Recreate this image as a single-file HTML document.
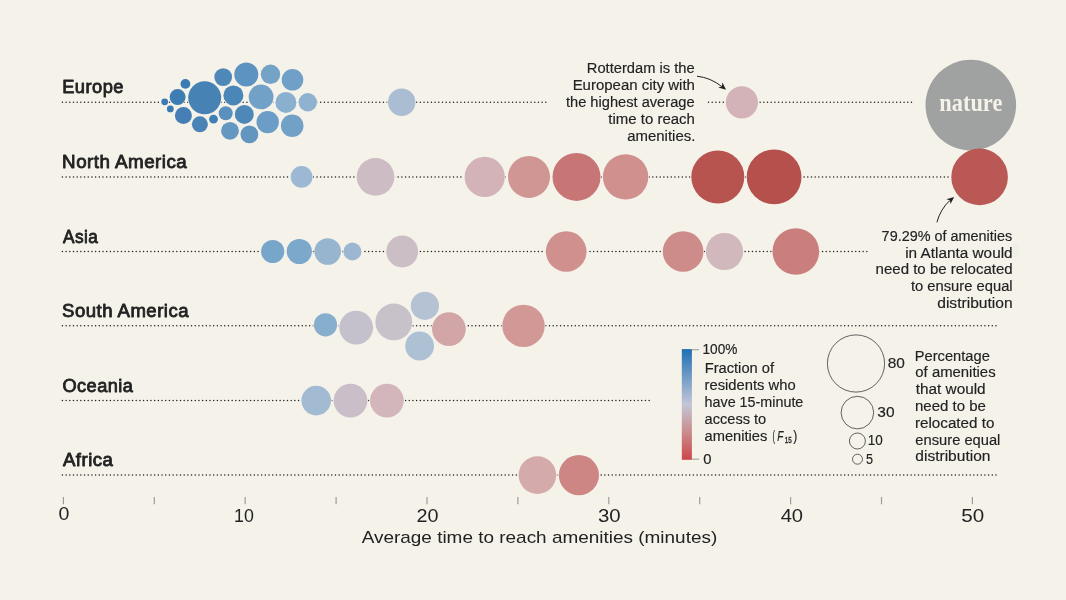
<!DOCTYPE html>
<html lang="en"><head><meta charset="utf-8"><title>15-minute cities</title>
<style>
html,body{margin:0;padding:0;background:#f5f2ea;}
body{width:1066px;height:600px;overflow:hidden;font-family:"Liberation Sans",sans-serif;}
svg{display:block;}
text{font-family:"Liberation Sans",sans-serif;fill:#222222;stroke:#222222;stroke-width:0.15px;}
.lab{stroke-width:0.8px;stroke-linejoin:round;letter-spacing:0.45px;}
.it{font-style:italic;}
.ax{stroke:none;}
.sub{stroke-width:0.35px;}
text.nat{font-family:"Liberation Serif",serif;font-weight:bold;fill:#f5f2ea;stroke:none;}
.dot{stroke:#222222;stroke-width:1.5;stroke-dasharray:0.01 3.68;stroke-linecap:round;fill:none;}
.tick{stroke:#9c9c98;stroke-width:1.2;}
</style></head><body>
<svg width="1066" height="600" viewBox="0 0 1066 600">
<defs><linearGradient id="cb" x1="0" y1="0" x2="0" y2="1">
<stop offset="0" stop-color="#1f6fb3"/><stop offset="0.5" stop-color="#c2c6d7"/><stop offset="0.75" stop-color="#cb8b8c"/><stop offset="1" stop-color="#cc464b"/>
</linearGradient></defs>
<rect x="0" y="0" width="1066" height="600" fill="#f5f2ea"/>
<line class="dot" x1="62.4" y1="102.25" x2="547.5" y2="102.25"/>
<line class="dot" x1="708.5" y1="102.25" x2="913.0" y2="102.25"/>
<line class="dot" x1="62.4" y1="176.90" x2="980.0" y2="176.90"/>
<line class="dot" x1="62.4" y1="251.50" x2="868.5" y2="251.50"/>
<line class="dot" x1="62.4" y1="325.85" x2="998.0" y2="325.85"/>
<line class="dot" x1="62.4" y1="400.60" x2="651.5" y2="400.60"/>
<line class="dot" x1="62.4" y1="475.10" x2="998.0" y2="475.10"/>
<circle cx="164.7" cy="101.80" r="4.10" fill="#f5f2ea"/>
<circle cx="170.3" cy="108.90" r="4.10" fill="#f5f2ea"/>
<circle cx="177.6" cy="97.10" r="8.70" fill="#f5f2ea"/>
<circle cx="185.4" cy="83.90" r="5.60" fill="#f5f2ea"/>
<circle cx="183.4" cy="115.50" r="9.20" fill="#f5f2ea"/>
<circle cx="204.7" cy="97.80" r="17.20" fill="#f5f2ea"/>
<circle cx="199.9" cy="124.30" r="8.70" fill="#f5f2ea"/>
<circle cx="213.5" cy="119.20" r="5.10" fill="#f5f2ea"/>
<circle cx="223.2" cy="77.10" r="9.60" fill="#f5f2ea"/>
<circle cx="233.4" cy="95.40" r="10.70" fill="#f5f2ea"/>
<circle cx="225.7" cy="113.20" r="7.70" fill="#f5f2ea"/>
<circle cx="230.0" cy="130.80" r="9.60" fill="#f5f2ea"/>
<circle cx="246.3" cy="74.40" r="12.70" fill="#f5f2ea"/>
<circle cx="244.3" cy="114.40" r="10.20" fill="#f5f2ea"/>
<circle cx="249.4" cy="134.40" r="9.60" fill="#f5f2ea"/>
<circle cx="261.1" cy="96.90" r="13.10" fill="#f5f2ea"/>
<circle cx="270.5" cy="74.30" r="10.40" fill="#f5f2ea"/>
<circle cx="267.7" cy="122.10" r="11.90" fill="#f5f2ea"/>
<circle cx="285.9" cy="102.40" r="11.20" fill="#f5f2ea"/>
<circle cx="292.5" cy="79.80" r="11.50" fill="#f5f2ea"/>
<circle cx="292.2" cy="125.70" r="12.00" fill="#f5f2ea"/>
<circle cx="307.8" cy="102.20" r="9.90" fill="#f5f2ea"/>
<circle cx="401.7" cy="102.30" r="14.40" fill="#f5f2ea"/>
<circle cx="741.9" cy="102.30" r="16.80" fill="#f5f2ea"/>
<circle cx="301.6" cy="176.90" r="11.60" fill="#f5f2ea"/>
<circle cx="375.5" cy="176.90" r="19.50" fill="#f5f2ea"/>
<circle cx="484.7" cy="176.90" r="20.80" fill="#f5f2ea"/>
<circle cx="529.0" cy="176.90" r="21.70" fill="#f5f2ea"/>
<circle cx="576.5" cy="176.90" r="24.70" fill="#f5f2ea"/>
<circle cx="625.6" cy="176.90" r="23.40" fill="#f5f2ea"/>
<circle cx="717.8" cy="176.90" r="27.20" fill="#f5f2ea"/>
<circle cx="774.1" cy="176.90" r="28.10" fill="#f5f2ea"/>
<circle cx="979.6" cy="176.90" r="29.00" fill="#f5f2ea"/>
<circle cx="272.7" cy="251.50" r="12.30" fill="#f5f2ea"/>
<circle cx="299.3" cy="251.50" r="13.30" fill="#f5f2ea"/>
<circle cx="327.7" cy="251.50" r="14.00" fill="#f5f2ea"/>
<circle cx="352.4" cy="251.50" r="9.70" fill="#f5f2ea"/>
<circle cx="402.2" cy="251.50" r="16.60" fill="#f5f2ea"/>
<circle cx="566.2" cy="251.50" r="21.00" fill="#f5f2ea"/>
<circle cx="683.1" cy="251.50" r="21.00" fill="#f5f2ea"/>
<circle cx="724.5" cy="251.50" r="19.30" fill="#f5f2ea"/>
<circle cx="795.8" cy="251.50" r="24.00" fill="#f5f2ea"/>
<circle cx="325.5" cy="324.80" r="12.30" fill="#f5f2ea"/>
<circle cx="356.2" cy="327.60" r="17.60" fill="#f5f2ea"/>
<circle cx="393.8" cy="321.90" r="19.10" fill="#f5f2ea"/>
<circle cx="424.9" cy="305.80" r="14.80" fill="#f5f2ea"/>
<circle cx="419.6" cy="346.00" r="15.10" fill="#f5f2ea"/>
<circle cx="448.9" cy="329.10" r="17.60" fill="#f5f2ea"/>
<circle cx="523.5" cy="325.85" r="21.90" fill="#f5f2ea"/>
<circle cx="316.2" cy="400.60" r="15.50" fill="#f5f2ea"/>
<circle cx="350.5" cy="400.60" r="17.60" fill="#f5f2ea"/>
<circle cx="386.9" cy="400.60" r="17.60" fill="#f5f2ea"/>
<circle cx="537.4" cy="475.10" r="19.50" fill="#f5f2ea"/>
<circle cx="578.9" cy="475.10" r="20.80" fill="#f5f2ea"/>
<circle cx="970.8" cy="105.1" r="45.3" fill="#a0a2a1"/>
<text class="nat" x="939.24" y="110.6" font-size="25" textLength="63.12" lengthAdjust="spacingAndGlyphs">nature</text>
<circle cx="164.7" cy="101.80" r="3.40" fill="#3a7bb3"/>
<circle cx="170.3" cy="108.90" r="3.40" fill="#3a7bb3"/>
<circle cx="177.6" cy="97.10" r="8.00" fill="#3d7db4"/>
<circle cx="185.4" cy="83.90" r="4.90" fill="#3a7bb3"/>
<circle cx="183.4" cy="115.50" r="8.50" fill="#457fb5"/>
<circle cx="204.7" cy="97.80" r="16.50" fill="#4682b4"/>
<circle cx="199.9" cy="124.30" r="8.00" fill="#4a84b6"/>
<circle cx="213.5" cy="119.20" r="4.40" fill="#3f7fb6"/>
<circle cx="223.2" cy="77.10" r="8.90" fill="#4e88b9"/>
<circle cx="233.4" cy="95.40" r="10.00" fill="#4b86b8"/>
<circle cx="225.7" cy="113.20" r="7.00" fill="#5a90be"/>
<circle cx="230.0" cy="130.80" r="8.90" fill="#6497c2"/>
<circle cx="246.3" cy="74.40" r="12.00" fill="#5d93c0"/>
<circle cx="244.3" cy="114.40" r="9.50" fill="#4d88b9"/>
<circle cx="249.4" cy="134.40" r="8.90" fill="#6296c1"/>
<circle cx="261.1" cy="96.90" r="12.40" fill="#72a1c8"/>
<circle cx="270.5" cy="74.30" r="9.70" fill="#75a3c8"/>
<circle cx="267.7" cy="122.10" r="11.20" fill="#6c9dc6"/>
<circle cx="285.9" cy="102.40" r="10.50" fill="#8aafcf"/>
<circle cx="292.5" cy="79.80" r="10.80" fill="#70a0c7"/>
<circle cx="292.2" cy="125.70" r="11.30" fill="#72a1c8"/>
<circle cx="307.8" cy="102.20" r="9.20" fill="#8fb2d0"/>
<circle cx="401.7" cy="102.30" r="13.70" fill="#abbdd3"/>
<circle cx="741.9" cy="102.30" r="16.10" fill="#d3b3b8"/>
<circle cx="301.6" cy="176.90" r="10.90" fill="#9db8d3"/>
<circle cx="375.5" cy="176.90" r="18.80" fill="#cdbcc3"/>
<circle cx="484.7" cy="176.90" r="20.10" fill="#d3b3b8"/>
<circle cx="529.0" cy="176.90" r="21.00" fill="#d09693"/>
<circle cx="576.5" cy="176.90" r="24.00" fill="#c77575"/>
<circle cx="625.6" cy="176.90" r="22.70" fill="#cf908e"/>
<circle cx="717.8" cy="176.90" r="26.50" fill="#b85450"/>
<circle cx="774.1" cy="176.90" r="27.40" fill="#b5504d"/>
<circle cx="979.6" cy="176.90" r="28.30" fill="#b95855"/>
<circle cx="272.7" cy="251.50" r="11.60" fill="#78a6ca"/>
<circle cx="299.3" cy="251.50" r="12.60" fill="#7ba8cb"/>
<circle cx="327.7" cy="251.50" r="13.30" fill="#98b5d0"/>
<circle cx="352.4" cy="251.50" r="9.00" fill="#9cb7d1"/>
<circle cx="402.2" cy="251.50" r="15.90" fill="#ccbec5"/>
<circle cx="566.2" cy="251.50" r="20.30" fill="#cf908e"/>
<circle cx="683.1" cy="251.50" r="20.30" fill="#cd8b89"/>
<circle cx="724.5" cy="251.50" r="18.60" fill="#d1b8bd"/>
<circle cx="795.8" cy="251.50" r="23.30" fill="#ca7f7d"/>
<circle cx="325.5" cy="324.80" r="11.60" fill="#88aecd"/>
<circle cx="356.2" cy="327.60" r="16.90" fill="#c4c1cc"/>
<circle cx="393.8" cy="321.90" r="18.40" fill="#c7c1c9"/>
<circle cx="424.9" cy="305.80" r="14.10" fill="#b5c2d3"/>
<circle cx="419.6" cy="346.00" r="14.40" fill="#aec0d4"/>
<circle cx="448.9" cy="329.10" r="16.90" fill="#d2a5a7"/>
<circle cx="523.5" cy="325.85" r="21.20" fill="#d19896"/>
<circle cx="316.2" cy="400.60" r="14.80" fill="#a2bad2"/>
<circle cx="350.5" cy="400.60" r="16.90" fill="#cabfc8"/>
<circle cx="386.9" cy="400.60" r="16.90" fill="#d3b6bb"/>
<circle cx="537.4" cy="475.10" r="18.80" fill="#d4aaab"/>
<circle cx="578.9" cy="475.10" r="20.10" fill="#ce8684"/>
<text class="lab" x="62.17" y="93.00" font-size="17.8" textLength="61.79" lengthAdjust="spacingAndGlyphs">Europe</text>
<text class="lab" x="62.12" y="168.00" font-size="17.8" textLength="125.09" lengthAdjust="spacingAndGlyphs">North America</text>
<text class="lab" x="63.00" y="243.00" font-size="17.8" textLength="35.21" lengthAdjust="spacingAndGlyphs">Asia</text>
<text class="lab" x="62.12" y="317.00" font-size="17.8" textLength="126.85" lengthAdjust="spacingAndGlyphs">South America</text>
<text class="lab" x="62.44" y="392.00" font-size="17.8" textLength="70.95" lengthAdjust="spacingAndGlyphs">Oceania</text>
<text class="lab" x="63.00" y="466.00" font-size="17.8" textLength="50.32" lengthAdjust="spacingAndGlyphs">Africa</text>
<line class="tick" x1="63.4" y1="497" x2="63.4" y2="504.3"/>
<line class="tick" x1="154.3" y1="497" x2="154.3" y2="504.3"/>
<line class="tick" x1="245.2" y1="497" x2="245.2" y2="504.3"/>
<line class="tick" x1="336.1" y1="497" x2="336.1" y2="504.3"/>
<line class="tick" x1="427.0" y1="497" x2="427.0" y2="504.3"/>
<line class="tick" x1="517.9" y1="497" x2="517.9" y2="504.3"/>
<line class="tick" x1="608.8" y1="497" x2="608.8" y2="504.3"/>
<line class="tick" x1="699.7" y1="497" x2="699.7" y2="504.3"/>
<line class="tick" x1="790.6" y1="497" x2="790.6" y2="504.3"/>
<line class="tick" x1="881.5" y1="497" x2="881.5" y2="504.3"/>
<line class="tick" x1="972.4" y1="497" x2="972.4" y2="504.3"/>
<text class="ax" x="58.47" y="520.00" font-size="17.6" textLength="10.89" lengthAdjust="spacingAndGlyphs">0</text>
<text class="ax" x="234.01" y="522.00" font-size="17.6" textLength="19.80" lengthAdjust="spacingAndGlyphs">10</text>
<text class="ax" x="416.56" y="522.00" font-size="17.6" textLength="22.03" lengthAdjust="spacingAndGlyphs">20</text>
<text class="ax" x="598.03" y="522.00" font-size="17.6" textLength="22.68" lengthAdjust="spacingAndGlyphs">30</text>
<text class="ax" x="780.65" y="522.00" font-size="17.6" textLength="22.46" lengthAdjust="spacingAndGlyphs">40</text>
<text class="ax" x="961.23" y="522.00" font-size="17.6" textLength="22.89" lengthAdjust="spacingAndGlyphs">50</text>
<text class="ax" x="361.65" y="543.00" font-size="17" textLength="355.60" lengthAdjust="spacingAndGlyphs">Average time to reach amenities (minutes)</text>
<text class="ann" x="586.77" y="73.00" font-size="14" textLength="107.86" lengthAdjust="spacingAndGlyphs">Rotterdam is the</text>
<text class="ann" x="572.65" y="90.00" font-size="14" textLength="122.29" lengthAdjust="spacingAndGlyphs">European city with</text>
<text class="ann" x="565.93" y="107.00" font-size="14" textLength="128.67" lengthAdjust="spacingAndGlyphs">the highest average</text>
<text class="ann" x="608.33" y="124.00" font-size="14" textLength="86.60" lengthAdjust="spacingAndGlyphs">time to reach</text>
<text class="ann" x="627.25" y="141.00" font-size="14" textLength="68.08" lengthAdjust="spacingAndGlyphs">amenities.</text>
<path d="M697 76.2 Q710.5 77.6 721.8 86.6" fill="none" stroke="#222222" stroke-width="1"/>
<path d="M726.1 89.8 L722.4 82.4 L721.8 86.6 L718.2 87.5 Z" fill="#222222"/>
<rect x="1012.9" y="243.9" width="5.9" height="12.9" fill="#efeee7"/>
<text class="ann" x="881.63" y="241.00" font-size="14" textLength="130.54" lengthAdjust="spacingAndGlyphs">79.29% of amenities</text>
<text class="ann" x="905.15" y="258.00" font-size="14" textLength="107.50" lengthAdjust="spacingAndGlyphs">in Atlanta would</text>
<text class="ann" x="875.57" y="274.00" font-size="14" textLength="137.11" lengthAdjust="spacingAndGlyphs">need to be relocated</text>
<text class="ann" x="910.93" y="291.00" font-size="14" textLength="101.74" lengthAdjust="spacingAndGlyphs">to ensure equal</text>
<text class="ann" x="937.23" y="308.00" font-size="14" textLength="75.46" lengthAdjust="spacingAndGlyphs">distribution</text>
<path d="M936.9 222.3 Q940.5 209 950 200.3" fill="none" stroke="#222222" stroke-width="1"/>
<path d="M954.2 197 L946.3 199.3 L950 200.3 L950.5 204 Z" fill="#222222"/>
<rect x="681.8" y="349.1" width="10.1" height="110.7" fill="url(#cb)"/>
<line x1="691.9" y1="349.7" x2="699.1" y2="349.7" stroke="#a8a8a8" stroke-width="1.2"/>
<line x1="691.9" y1="459.2" x2="699.1" y2="459.2" stroke="#a8a8a8" stroke-width="1.2"/>
<text class="ann" x="702.53" y="354.00" font-size="14" textLength="34.87" lengthAdjust="spacingAndGlyphs">100%</text>
<text class="ann" x="703.36" y="464.00" font-size="14" textLength="8.23" lengthAdjust="spacingAndGlyphs">0</text>
<text class="ann" x="704.68" y="373.00" font-size="14" textLength="69.36" lengthAdjust="spacingAndGlyphs">Fraction of</text>
<text class="ann" x="704.59" y="390.00" font-size="14" textLength="91.05" lengthAdjust="spacingAndGlyphs">residents who</text>
<text class="ann" x="704.55" y="407.00" font-size="14" textLength="98.80" lengthAdjust="spacingAndGlyphs">have 15-minute</text>
<text class="ann" x="704.57" y="424.00" font-size="14" textLength="61.66" lengthAdjust="spacingAndGlyphs">access to</text>
<text class="ann" x="704.56" y="441.00" font-size="14" textLength="62.80" lengthAdjust="spacingAndGlyphs">amenities</text>
<text class="ann" x="772.60" y="441.00" font-size="14" textLength="2.51" lengthAdjust="spacingAndGlyphs">(</text>
<text class="ann it" x="777.35" y="441.00" font-size="14" textLength="6.11" lengthAdjust="spacingAndGlyphs">F</text>
<text class="ann sub" x="784.78" y="443.00" font-size="8.8" textLength="7.04" lengthAdjust="spacingAndGlyphs">15</text>
<text class="ann" x="793.29" y="441.00" font-size="14" textLength="4.02" lengthAdjust="spacingAndGlyphs">)</text>
<circle cx="856.0" cy="363.5" r="28.6" fill="none" stroke="#3c3c3c" stroke-width="0.8"/>
<text class="ann" x="887.66" y="367.60" font-size="14" textLength="17.17" lengthAdjust="spacingAndGlyphs">80</text>
<circle cx="857.4" cy="412.6" r="16.3" fill="none" stroke="#3c3c3c" stroke-width="0.8"/>
<text class="ann" x="877.33" y="416.70" font-size="14" textLength="17.20" lengthAdjust="spacingAndGlyphs">30</text>
<circle cx="857.4" cy="441.0" r="8.0" fill="none" stroke="#3c3c3c" stroke-width="0.8"/>
<text class="ann" x="867.64" y="444.60" font-size="14" textLength="15.02" lengthAdjust="spacingAndGlyphs">10</text>
<circle cx="857.5" cy="459.2" r="5.0" fill="none" stroke="#3c3c3c" stroke-width="0.8"/>
<text class="ann" x="866.04" y="463.50" font-size="14" textLength="7.03" lengthAdjust="spacingAndGlyphs">5</text>
<text class="ann" x="914.78" y="361.00" font-size="14" textLength="75.03" lengthAdjust="spacingAndGlyphs">Percentage</text>
<text class="ann" x="915.35" y="377.00" font-size="14" textLength="80.24" lengthAdjust="spacingAndGlyphs">of amenities</text>
<text class="ann" x="915.72" y="394.00" font-size="14" textLength="69.91" lengthAdjust="spacingAndGlyphs">that would</text>
<text class="ann" x="914.97" y="411.00" font-size="14" textLength="70.98" lengthAdjust="spacingAndGlyphs">need to be</text>
<text class="ann" x="914.96" y="428.00" font-size="14" textLength="79.41" lengthAdjust="spacingAndGlyphs">relocated to</text>
<text class="ann" x="915.36" y="445.00" font-size="14" textLength="85.03" lengthAdjust="spacingAndGlyphs">ensure equal</text>
<text class="ann" x="915.33" y="461.00" font-size="14" textLength="75.10" lengthAdjust="spacingAndGlyphs">distribution</text>
</svg></body></html>
